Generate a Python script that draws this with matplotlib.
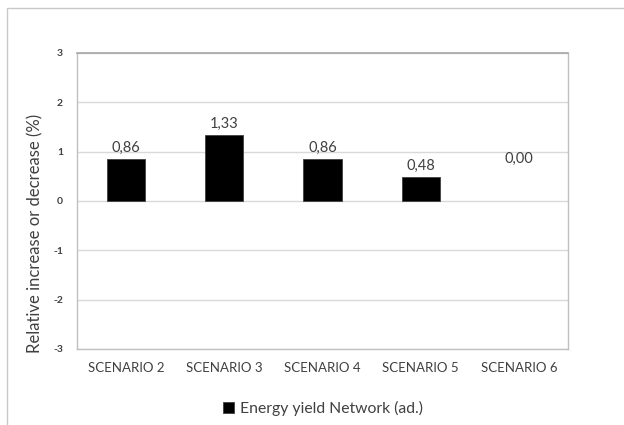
import matplotlib
matplotlib.use("Agg")
import matplotlib.pyplot as plt
from matplotlib.patches import Rectangle

categories = ["SCENARIO 2", "SCENARIO 3", "SCENARIO 4", "SCENARIO 5", "SCENARIO 6"]
values = [0.86, 1.33, 0.86, 0.48, 0.00]
value_labels = ["0,86", "1,33", "0,86", "0,48", "0,00"]
yticks = [-3, -2, -1, 0, 1, 2, 3]
series_name = "Energy yield Network (ad.)"

plt.rcParams['font.family'] = ['Lato', 'DejaVu Sans']

fig = plt.figure(figsize=(6.24, 4.25), dpi=100)
W, H = 624, 425
# outer chart border
fig.patches.append(Rectangle((7 / W, -0.1), 1.2, 1 - 8 / H + 0.1, transform=fig.transFigure,
                             fill=False, edgecolor="#c8c8c8", linewidth=1.0))

ax = fig.add_axes([77 / W, (H - 349) / H, (568 - 77) / W, (349 - 53) / H])
x = range(len(categories))
bars = ax.bar(x, values, width=0.39, color="black", edgecolor="#404040", linewidth=0.6,
              label=series_name, zorder=3)
for b, v in zip(bars, values):
    if v == 0:
        b.set_linewidth(0)
ax.set_xlim(-0.5, len(categories) - 0.5)
ax.set_ylim(-3, 3)
ax.set_yticks(yticks)
ax.set_yticklabels([str(t) for t in yticks], fontsize=7.5, fontweight="bold", color="#404040")
ax.set_xticks(list(x))
ax.set_xticklabels(categories, fontsize=9.5, color="#404040")
ax.tick_params(axis="y", length=0, pad=10)
ax.tick_params(axis="x", length=0, pad=9)
ax.yaxis.grid(True, color="#d9d9d9", linewidth=1.0, zorder=0)
for s in ["left", "right", "bottom"]:
    ax.spines[s].set_color("#c0c0c0")
    ax.spines[s].set_linewidth(1.0)
ax.spines["top"].set_color("#a6a6a6")
ax.spines["top"].set_linewidth(1.2)

for i, (v, lab) in enumerate(zip(values, value_labels)):
    y = v if v > 0 else 0.62
    ax.annotate(lab, (i, y), xytext=(0, 3), textcoords="offset points",
                ha="center", va="bottom", fontsize=10.5, color="#404040")

ax.set_ylabel("Relative increase or decrease (%)", fontsize=12, color="#404040")
ax.yaxis.set_label_coords(-(77 - 43) / (568 - 77), (349 - 233) / (349 - 53))

leg = fig.legend(handles=[bars], labels=[series_name], loc="center",
                 bbox_to_anchor=(323 / W, (H - 408) / H), frameon=False, fontsize=11.3,
                 handlelength=0.7, handleheight=0.7, handletextpad=0.4)
for t in leg.get_texts():
    t.set_color("#404040")

fig.savefig("out.png", dpi=100)
